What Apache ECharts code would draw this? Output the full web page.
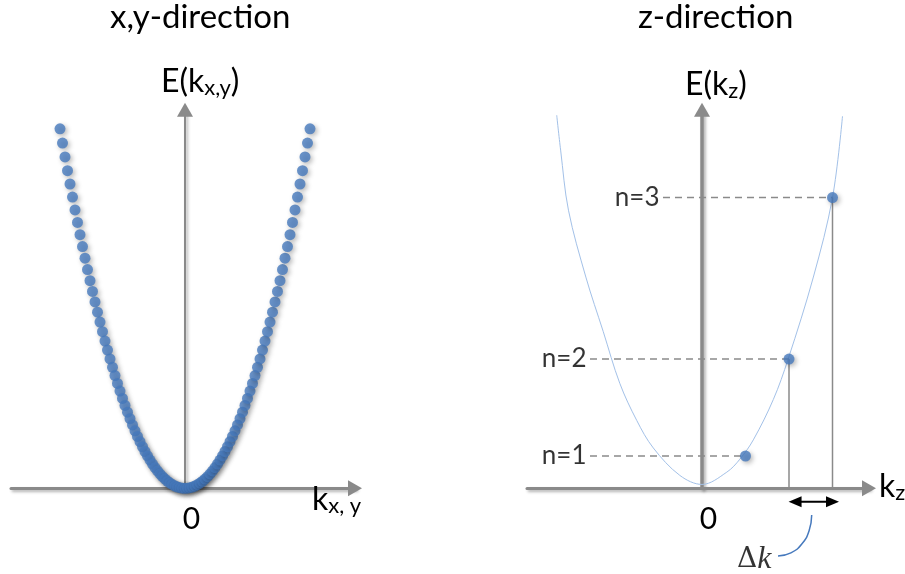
<!DOCTYPE html>
<html>
<head>
<meta charset="utf-8">
<script src="https://cdn.jsdelivr.net/npm/echarts@6/dist/echarts.min.js"></script>
<style>html,body{margin:0;padding:0;background:#fff}#c{width:905px;height:574px}</style>
</head>
<body>
<div id="c"></div>
<script>
// ---------------- DATA ----------------
// Left panel: sampled dispersion E(k_x,y)
const kxy = [-1.00,-0.98,-0.96,-0.94,-0.92,-0.90,-0.88,-0.86,-0.84,-0.82,-0.80,-0.78,-0.76,-0.74,-0.72,-0.70,-0.68,-0.66,-0.64,-0.62,-0.60,-0.58,-0.56,-0.54,-0.52,-0.50,-0.48,-0.46,-0.44,-0.42,-0.40,-0.38,-0.36,-0.34,-0.32,-0.30,-0.28,-0.26,-0.24,-0.22,-0.20,-0.18,-0.16,-0.14,-0.12,-0.10,-0.08,-0.06,-0.04,-0.02,0.00,0.02,0.04,0.06,0.08,0.10,0.12,0.14,0.16,0.18,0.20,0.22,0.24,0.26,0.28,0.30,0.32,0.34,0.36,0.38,0.40,0.42,0.44,0.46,0.48,0.50,0.52,0.54,0.56,0.58,0.60,0.62,0.64,0.66,0.68,0.70,0.72,0.74,0.76,0.78,0.80,0.82,0.84,0.86,0.88,0.90,0.92,0.94,0.96,0.98,1.00];
const exy = [1.0000,0.9604,0.9216,0.8836,0.8464,0.8100,0.7744,0.7396,0.7056,0.6724,0.6400,0.6084,0.5776,0.5476,0.5184,0.4900,0.4624,0.4356,0.4096,0.3844,0.3600,0.3364,0.3136,0.2916,0.2704,0.2500,0.2304,0.2116,0.1936,0.1764,0.1600,0.1444,0.1296,0.1156,0.1024,0.0900,0.0784,0.0676,0.0576,0.0484,0.0400,0.0324,0.0256,0.0196,0.0144,0.0100,0.0064,0.0036,0.0016,0.0004,0.0000,0.0004,0.0016,0.0036,0.0064,0.0100,0.0144,0.0196,0.0256,0.0324,0.0400,0.0484,0.0576,0.0676,0.0784,0.0900,0.1024,0.1156,0.1296,0.1444,0.1600,0.1764,0.1936,0.2116,0.2304,0.2500,0.2704,0.2916,0.3136,0.3364,0.3600,0.3844,0.4096,0.4356,0.4624,0.4900,0.5184,0.5476,0.5776,0.6084,0.6400,0.6724,0.7056,0.7396,0.7744,0.8100,0.8464,0.8836,0.9216,0.9604,1.0000];

// Right panel: continuous dispersion E(k_z)
const kzCurve = [-3.34,-3.25,-3.07,-2.67,-2.27,-1.89,-1.50,-1.12,-0.51,0.00,0.57,0.87,1.18,1.64,1.98,2.56,3.00,3.23];
const ezCurve = [11.55,10.47,8.61,6.54,4.85,3.25,2.10,1.25,0.40,0.12,0.50,0.90,1.50,2.75,4.00,6.54,9.00,11.52];

// Quantised states
const levelNames = ['n=1','n=2','n=3'];
const levelK = [1, 2, 3];
const levelE = [1, 4, 9];

// Text
const panelTitles = ['x,y-direction', 'z-direction'];
const deltaLabel = ['Δ', 'k'];

// ---------------- LAYOUT / STYLE ----------------
const FONT = 'Lato';
const TXT = '#000';
const BLUE = '#4679bd';
const GRAY = '#8a8a8a';
const dashStartK = [-2.575, -2.575, -0.897];   // where each dashed guide starts
const dropLevels = [1, 2];                    // levels with a drop line to the axis
const dkArrowPts = [[2.14, -0.415], [3.0, -0.415]];
const calloutPts = [[2.522,-0.827],[2.462,-1.312],[2.294,-1.724],[2.044,-1.998],[1.747,-2.096]];

const shadow = {shadowBlur: 5, shadowColor: 'rgba(0,0,0,0.35)', shadowOffsetX: 2, shadowOffsetY: 2};
function axisLine(w) {
  return {show: true, onZero: true, symbol: ['none', 'triangle'], symbolSize: [16, 14],
    lineStyle: {color: GRAY, width: w, shadowBlur: 3, shadowColor: 'rgba(0,0,0,0.3)', shadowOffsetX: 2, shadowOffsetY: 2}};
}
const zeroLabel = {customValues: [0], formatter: v => (v === 0 ? '0' : ''), margin: 16,
  padding: [0, 0, 0, 13], fontSize: 30, fontFamily: FONT, color: TXT};
const rich = {
  m: {fontFamily: FONT, fontSize: 32, color: TXT},
  s: {fontFamily: FONT, fontSize: 22, color: TXT, padding: [12, 0, 0, 0]}
};
function tt(text, left, top, size) {
  return {text, left, top, padding: 0,
    textStyle: {fontFamily: FONT, fontSize: size || 32, fontWeight: 'normal', color: TXT, rich}};
}

const chart = echarts.init(document.getElementById('c'));
const series = [];

// left dots
series.push({type: 'scatter', xAxisIndex: 0, yAxisIndex: 0, clip: false, z: 5,
  symbolSize: 11, itemStyle: Object.assign({color: BLUE}, shadow),
  data: kxy.map((k, i) => [k, exy[i]])});

// right curve
series.push({type: 'line', xAxisIndex: 1, yAxisIndex: 1, clip: false, z: 2,
  smooth: 0.35, symbol: 'none', lineStyle: {color: '#a3c1e8', width: 1},
  data: kzCurve.map((k, i) => [k, ezCurve[i]])});

// dashed guides
levelK.forEach((k, i) => {
  series.push({type: 'line', xAxisIndex: 1, yAxisIndex: 1, clip: false, z: 3, symbol: 'none',
    lineStyle: {color: GRAY, width: 1.5, type: [7, 5]},
    data: [[dashStartK[i], levelE[i]], [k, levelE[i]]]});
});
// drop lines
dropLevels.forEach(i => {
  series.push({type: 'line', xAxisIndex: 1, yAxisIndex: 1, clip: false, z: 3, symbol: 'none',
    lineStyle: {color: GRAY, width: 1.5},
    data: [[levelK[i], levelE[i]], [levelK[i], 0]]});
});
// level labels
series.push({type: 'scatter', xAxisIndex: 1, yAxisIndex: 1, clip: false, z: 4,
  symbolSize: 1, itemStyle: {color: 'rgba(0,0,0,0)'},
  label: {show: true, position: 'left', distance: 3, fontFamily: FONT, fontSize: 26, color: TXT,
    formatter: p => levelNames[p.dataIndex]},
  data: levelK.map((k, i) => [dashStartK[i], levelE[i]])});
// level dots
series.push({type: 'scatter', xAxisIndex: 1, yAxisIndex: 1, clip: false, z: 6,
  symbolSize: 11, itemStyle: Object.assign({color: BLUE}, shadow),
  data: levelK.map((k, i) => [k, levelE[i]])});
// delta-k double arrow
series.push({type: 'line', xAxisIndex: 1, yAxisIndex: 1, clip: false, z: 4,
  symbol: 'triangle', symbolSize: [11, 13], itemStyle: {color: '#000'},
  lineStyle: {color: '#000', width: 2},
  data: [{value: dkArrowPts[0], symbolRotate: 90}, {value: dkArrowPts[1], symbolRotate: -90}]});
// callout
series.push({type: 'line', xAxisIndex: 1, yAxisIndex: 1, clip: false, z: 4,
  smooth: true, symbol: 'none', lineStyle: {color: BLUE, width: 1.5},
  data: calloutPts});
series.push({type: 'scatter', xAxisIndex: 1, yAxisIndex: 1, clip: false, z: 4,
  symbolSize: 1, itemStyle: {color: 'rgba(0,0,0,0)'},
  label: {show: true, position: 'left', distance: 6, offset: [0, 4],
    formatter: '{d|' + deltaLabel[0] + '}{k|' + deltaLabel[1] + '}',
    rich: {d: {fontFamily: 'DejaVu Serif', fontSize: 28, color: TXT},
           k: {fontFamily: 'Liberation Serif', fontStyle: 'italic', fontSize: 32, color: TXT}}},
  data: [calloutPts[calloutPts.length - 1]]});

chart.setOption({
  animation: false,
  backgroundColor: '#fff',
  title: [
    tt(panelTitles[0], 110, 1, 33),
    tt(panelTitles[1], 638, 1, 33),
    tt('{m|E(k}{s|x,y}{m|)}', 161, 65),
    tt('{m|E(k}{s|z}{m|)}', 685, 68),
    tt('{m|k}{s|x, y}', 312, 483),
    tt('{m|k}{s|z}', 879, 470)
  ],
  grid: [
    {left: 11, top: 109.7, width: 344, height: 378.6},
    {left: 527, top: 109.7, width: 342, height: 378.6}
  ],
  xAxis: [
    {type: 'value', gridIndex: 0, min: -1.392, max: 1.360, axisLine: axisLine(3),
      axisTick: {show: false}, splitLine: {show: false}, axisLabel: zeroLabel},
    {type: 'value', gridIndex: 1, min: -4.023, max: 3.839, axisLine: axisLine(3),
      axisTick: {show: false}, splitLine: {show: false}, axisLabel: zeroLabel}
  ],
  yAxis: [
    {type: 'value', gridIndex: 0, min: 0, max: 1.0531, axisLine: axisLine(2),
      axisTick: {show: false}, splitLine: {show: false}, axisLabel: {show: false}},
    {type: 'value', gridIndex: 1, min: 0, max: 11.721, axisLine: axisLine(3.5),
      axisTick: {show: false}, splitLine: {show: false}, axisLabel: {show: false}}
  ],
  series
});
</script>
</body>
</html>
